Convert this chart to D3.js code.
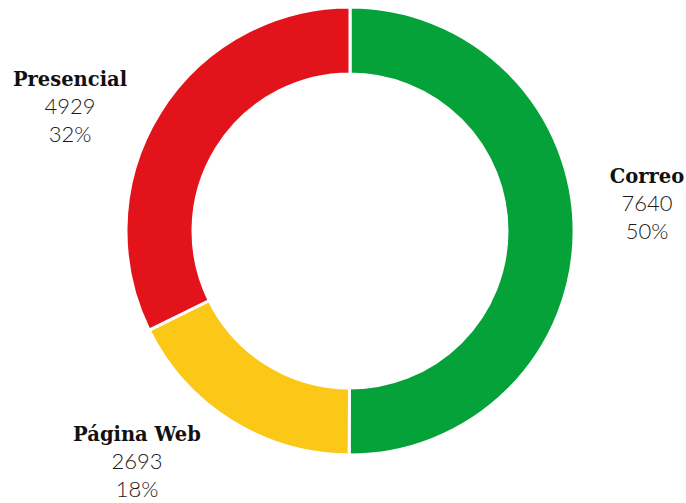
<!DOCTYPE html>
<html>
<head>
<meta charset="utf-8">
<script src="https://cdn.jsdelivr.net/npm/d3@7"></script>
<style>
  body { margin: 0; background: #fff; }
  .name { font-family: "DejaVu Serif", serif; font-weight: bold; fill: #111; }
  .val { font-family: "Lato", "Open Sans", sans-serif; font-weight: 300; fill: #1a1a1a; }
</style>
</head>
<body>
<svg id="chart"></svg>
<script>
// datos
const categories = ["Correo", "Página Web", "Presencial"];
const values = [7640, 2693, 4929];
const colors = ["#05a23a", "#fcc817", "#e3131b"];
// posiciones de las etiquetas (centro x, línea base del título)
const labelPos = [[647, 183], [137, 441], [70, 86]];

const width = 686, height = 503;
const cx = 350, cy = 231, rOuter = 224, rInner = 157;

const svg = d3.select("#chart")
    .attr("width", width)
    .attr("height", height);

const g = svg.append("g")
    .attr("transform", `translate(${cx}, ${cy})`);

const data = categories.map((c, i) => ({ name: c, value: values[i], color: colors[i] }));
const total = d3.sum(values);

const pie = d3.pie().sort(null).value(d => d.value);
const arc = d3.arc().innerRadius(rInner).outerRadius(rOuter);

g.selectAll("path")
    .data(pie(data))
    .join("path")
    .attr("d", arc)
    .attr("fill", d => d.data.color)
    .attr("stroke", "#fff")
    .attr("stroke-width", 3);

const labels = svg.selectAll("g.label")
    .data(data)
    .join("g")
    .attr("class", "label")
    .attr("transform", (d, i) => `translate(${labelPos[i][0]}, ${labelPos[i][1]})`)
    .attr("text-anchor", "middle");

labels.append("text")
    .attr("class", "name")
    .attr("font-size", "19.5px")
    .text(d => d.name);

labels.append("text")
    .attr("class", "val")
    .attr("y", 28)
    .attr("font-size", "22px")
    .text(d => d.value);

labels.append("text")
    .attr("class", "val")
    .attr("y", 56)
    .attr("font-size", "22px")
    .text(d => Math.round(d.value / total * 100) + "%");
</script>
</body>
</html>
